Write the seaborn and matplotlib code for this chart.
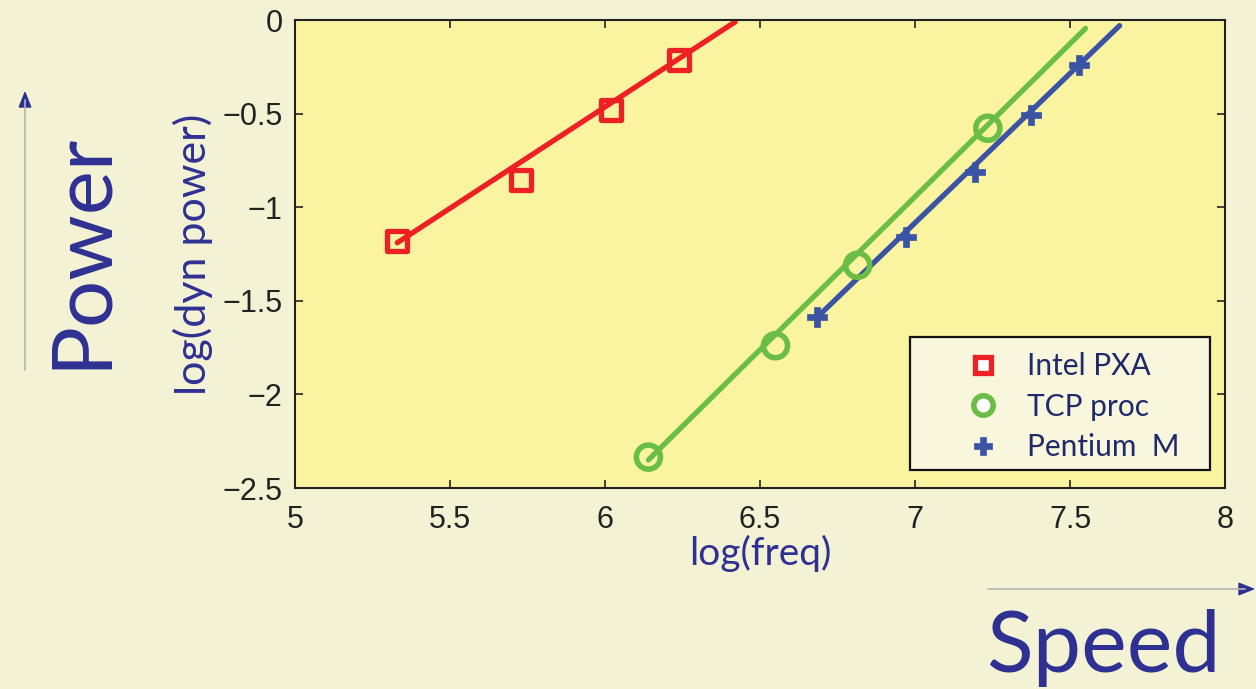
import matplotlib
matplotlib.use("Agg")
import matplotlib.pyplot as plt
import seaborn as sns
from matplotlib.lines import Line2D
from matplotlib.patches import Rectangle

# ---- data ----
intel_x = [5.33, 5.73, 6.02, 6.24]
intel_y = [-1.18, -0.855, -0.48, -0.215]
intel_fit_x = [5.33, 6.42]
intel_fit_y = [-1.19, -0.01]

tcp_x = [6.14, 6.55, 6.815, 7.235]
tcp_y = [-2.335, -1.74, -1.31, -0.578]
tcp_fit_x = [6.14, 7.55]
tcp_fit_y = [-2.35, -0.045]

pent_x = [6.685, 6.97, 7.195, 7.375, 7.53]
pent_y = [-1.587, -1.16, -0.812, -0.508, -0.24]
pent_fit_x = [6.685, 7.66]
pent_fit_y = [-1.587, -0.03]

labels = ["Intel PXA", "TCP proc", "Pentium  M"]
xticks = [5, 5.5, 6, 6.5, 7, 7.5, 8]
yticks = [0, -0.5, -1, -1.5, -2, -2.5]

RED = "#ED2024"
GREEN = "#6BBE45"
BLUE = "#3A53A4"
NAVY = "#2E3192"
LEG_TXT = "#1F2A6B"
FIG_BG = "#F3F2D5"
AX_BG = "#FAF4A0"
HUM = ["Lato", "DejaVu Sans"]

sns.set_style("ticks")
plt.rcParams["font.family"] = ["Liberation Sans", "DejaVu Sans"]

W, H = 1256, 689
fig = plt.figure(figsize=(W/100, H/100), dpi=100, facecolor=FIG_BG)
AX_L, AX_R, AX_T, AX_B = 295, 1225, 20, 488
ax = fig.add_axes([AX_L/W, 1-AX_B/H, (AX_R-AX_L)/W, (AX_B-AX_T)/H])
ax.set_facecolor(AX_BG)

def axfrac(px, py):
    return ((px-AX_L)/(AX_R-AX_L), (AX_B-py)/(AX_B-AX_T))

lw = 3.8
sns.lineplot(x=intel_fit_x, y=intel_fit_y, ax=ax, color=RED, lw=lw, legend=False)
sns.lineplot(x=tcp_fit_x, y=tcp_fit_y, ax=ax, color=GREEN, lw=lw, legend=False)
sns.lineplot(x=pent_fit_x, y=pent_fit_y, ax=ax, color=BLUE, lw=lw, legend=False)

sns.scatterplot(x=intel_x, y=intel_y, ax=ax, marker="s", s=210,
                facecolors="none", edgecolor=RED, linewidth=3.8, zorder=5)
sns.scatterplot(x=tcp_x, y=tcp_y, ax=ax, marker="o", s=300,
                facecolors="none", edgecolor=GREEN, linewidth=4.0, zorder=5)
sns.scatterplot(x=pent_x, y=pent_y, ax=ax, marker="P", s=200,
                color=BLUE, edgecolor=BLUE, linewidth=0.5, zorder=5)

ax.set_xlim(5, 8)
ax.set_ylim(-2.5, 0)
ax.set_xticks(xticks)
ax.set_xticklabels([f"{t:g}" for t in xticks])
ax.set_yticks(yticks)
ax.set_yticklabels([f"{t:g}".replace("-", "\u2212") for t in yticks])
ax.tick_params(direction="in", length=6, width=1.2, top=True, right=True,
               labelsize=22, colors="#222222")
ax.tick_params(axis="x", pad=12)
ax.tick_params(axis="y", pad=9)
for sp in ax.spines.values():
    sp.set_visible(True)
    sp.set_color("#222222")
    sp.set_linewidth(1.5)

ax.set_xlabel("log(freq)", color=NAVY, fontsize=28, labelpad=0, family=HUM)
ax.set_ylabel("log(dyn power)", color=NAVY, fontsize=31, labelpad=7, family=HUM)

# legend box (frame) and entries
x0, y1 = axfrac(910, 337)
x1, y0 = axfrac(1210, 470)
ax.add_patch(Rectangle((x0, y0), x1-x0, y1-y0, transform=ax.transAxes,
                       facecolor="#F8F6DC", edgecolor="#111111", lw=1.6, zorder=8))
handles = [
    Line2D([], [], ls="none", marker="s", ms=11, mfc="white", mec=RED, mew=3.8),
    Line2D([], [], ls="none", marker="o", ms=14, mfc="white", mec=GREEN, mew=4.0),
    Line2D([], [], ls="none", marker="P", ms=13, mfc=BLUE, mec=BLUE, mew=0.5),
]
fs_px = 21.5 * 100 / 72
anchor = axfrac(983 - fs_px/2, 352)
leg = ax.legend(handles, labels, loc="upper left", bbox_to_anchor=anchor,
                prop={"family": HUM, "size": 21.5}, frameon=False,
                labelcolor=LEG_TXT, handlelength=1.0,
                handletextpad=(1027 - (983 - fs_px/2) - fs_px)/fs_px,
                borderpad=0, labelspacing=0.42, borderaxespad=0)
leg.set_zorder(9)

# decorative axis captions with arrows
fig.text(82/W, 1-250/H, "Power", rotation=90, color=NAVY, fontsize=60,
         family=HUM, ha="center", va="center")
fig.text(1103/W, 1-648/H, "Speed", color=NAVY, fontsize=62,
         family=HUM, ha="center", va="center")
fig.add_artist(plt.Line2D([25/W, 25/W], [1-370/H, 1-100/H],
                          transform=fig.transFigure, color="#B5B5B5", lw=1.2))
fig.add_artist(plt.Line2D([988/W, 1245/W], [1-589/H, 1-589/H],
                          transform=fig.transFigure, color="#B5B5B5", lw=1.2))
ax.annotate("", xy=(25/W, 1-88/H), xytext=(25/W, 1-110/H),
            xycoords="figure fraction", textcoords="figure fraction",
            arrowprops=dict(arrowstyle="-|>,head_length=1.0,head_width=0.4",
                            color=NAVY, lw=1.2))
ax.annotate("", xy=(1258/W, 1-589/H), xytext=(1236/W, 1-589/H),
            xycoords="figure fraction", textcoords="figure fraction",
            arrowprops=dict(arrowstyle="-|>,head_length=1.0,head_width=0.4",
                            color=NAVY, lw=1.2))

fig.savefig("out.png", dpi=100, facecolor=FIG_BG)
